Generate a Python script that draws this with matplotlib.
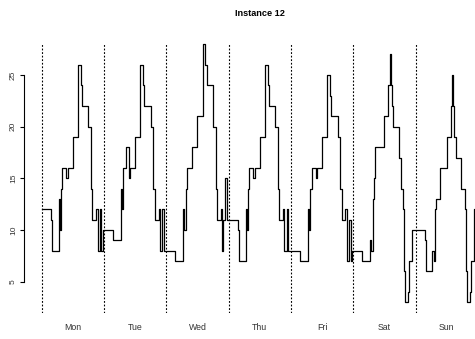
import numpy as np
import matplotlib
matplotlib.use('Agg')
import matplotlib.pyplot as plt
from matplotlib import transforms

plt.rcParams['font.family'] = ['Liberation Sans', 'DejaVu Sans']

# half-hourly values, one list per day
mon = [12,12,12,12,12,12,12,11,8,8,8,8,8,13,10,14,16,16,16,15,16,16,16,16,
       19,19,19,19,26,26,24,22,22,22,22,22,20,20,14,11,11,11,12,8,8,12,8,10]
tue = [10,10,10,10,10,10,10,9,9,9,9,9,9,14,12,16,16,18,18,15,16,16,16,16,
       19,19,19,19,26,26,24,22,22,22,22,22,20,20,14,11,11,11,12,8,8,12,8,8]
wed = [8,8,8,8,8,8,8,7,7,7,7,7,7,12,10,14,16,16,16,16,18,18,18,18,
       21,21,21,21,28,28,26,24,24,24,24,24,20,20,14,11,11,11,12,8,11,15,15,11]
thu = [11,11,11,11,11,11,11,10,7,7,7,7,7,12,10,14,16,16,16,15,16,16,16,16,
       19,19,19,19,26,26,24,22,22,22,22,22,20,20,14,11,11,11,12,8,8,12,8,8]
fri = [8,8,8,8,8,8,8,7,7,7,7,7,7,12,10,14,16,16,16,15,16,16,16,16,
       19,19,19,19,25,25,23,21,21,21,21,21,19,19,14,11,11,11,12,7,7,11,7,8]
sat = [8,8,8,8,8,8,8,7,7,7,7,7,7,9,8,13,15,18,18,18,18,18,18,18,
       21,21,21,24,27,24,22,20,20,20,20,17,17,14,12,6,3,3,4,7,7,10,10,10]
sun = [10,10,10,10,10,10,10,9,6,6,6,6,6,8,7,12,13,13,13,16,16,16,16,16,
       19,19,19,22,25,22,19,17,17,17,17,14,14,14,12,6,3,3,4,7,7,12,12,12]

days = ['Mon', 'Tue', 'Wed', 'Thu', 'Fri', 'Sat', 'Sun']
title = 'Instance 12'

values = np.array(mon + tue + wed + thu + fri + sat + sun)
hours = np.arange(len(values)) * 0.5
hours = np.append(hours, len(values) * 0.5)
values = np.append(values, values[-1])

W, H = 475, 339
fig = plt.figure(figsize=(W / 100, H / 100), dpi=100)
left, right, top, bottom = 24, 495, 42.7, 313.3
ax = fig.add_axes([left / W, 1 - bottom / H, (right - left) / W, (bottom - top) / H])

ax.step(hours, values, where='post', color='black', lw=0.9)

for k in range(len(days)):
    ax.axvline(24 * k, color='black', lw=0.8, ls=(0, (1.6, 1.6)))

ax.set_xlim(-6.82, 174.6)
ax.set_ylim(1.93, 28.13)

for s in ['top', 'right', 'bottom']:
    ax.spines[s].set_visible(False)
ax.spines['left'].set_bounds(5, 25)
ax.spines['left'].set_linewidth(0.8)
ax.set_xticks([])
ax.set_yticks([5, 10, 15, 20, 25])
ax.tick_params(axis='y', length=3, width=0.8, pad=2, labelsize=6, labelcolor='#333333')
for lab in ax.get_yticklabels():
    lab.set_rotation(90)
    lab.set_va('center')

trans = transforms.blended_transform_factory(ax.transData, fig.transFigure)
for k, d in enumerate(days):
    ax.text(24 * k + 12, 1 - 328 / H, d, transform=trans, ha='center', va='center',
            fontsize=6.3, color='#333333')

fig.text(259.5 / W, 1 - 14 / H, title, ha='center', va='center',
         fontsize=6.6, fontweight='bold')

fig.savefig('out.png', dpi=100)
